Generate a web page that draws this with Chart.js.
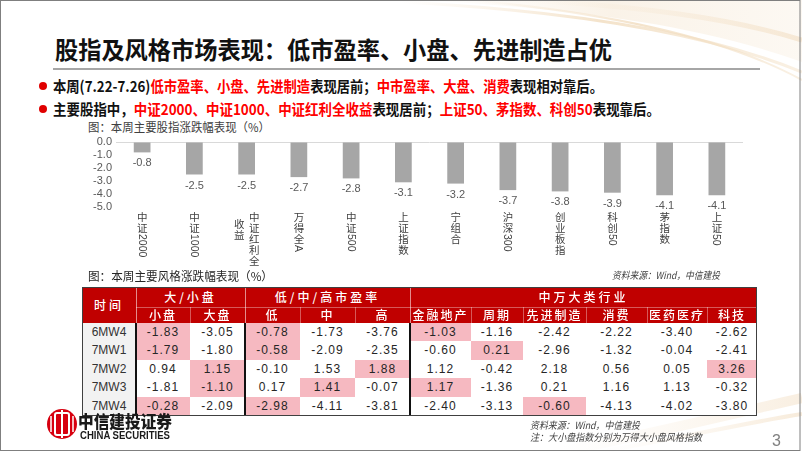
<!DOCTYPE html>
<html><head><meta charset="utf-8">
<script src="https://cdn.jsdelivr.net/npm/chart.js@4.4.1/dist/chart.umd.min.js"></script>
<style>
html,body{margin:0;padding:0;background:#fff;}
#slide{position:relative;width:802px;height:452px;overflow:hidden;background:#fff;font-family:"Noto Sans CJK SC","Noto Sans",sans-serif;}
.abs{position:absolute;white-space:nowrap;}
.fit{display:inline-block;transform-origin:0 50%;}
.red{color:#FF0000;}
.cell{position:absolute;box-sizing:border-box;text-align:center;white-space:nowrap;overflow:hidden;}
</style></head>
<body>
<div id="slide">
<svg class="abs" style="left:0;top:0" width="802" height="452">
  <defs>
    <linearGradient id="g1" x1="0" y1="0" x2="1" y2="0">
      <stop offset="0" stop-color="#F6E6D0" stop-opacity="0"/>
      <stop offset="0.5" stop-color="#F1DCBE" stop-opacity="0.8"/>
      <stop offset="1" stop-color="#F4E2C8" stop-opacity="0.5"/>
    </linearGradient>
    <linearGradient id="g2" x1="0" y1="0" x2="1" y2="0">
      <stop offset="0" stop-color="#F6E6D0" stop-opacity="0"/>
      <stop offset="1" stop-color="#EFD6B4" stop-opacity="0.8"/>
    </linearGradient>
  </defs>
  <path d="M420 0 C560 8 690 22 802 62 L802 0 Z" fill="url(#g1)" opacity="0.45"/>
  <path d="M400 2 C560 10 700 30 802 72" stroke="url(#g1)" stroke-width="3" fill="none"/>
  <path d="M470 0 C600 12 720 35 802 80" stroke="url(#g1)" stroke-width="2" fill="none"/>
  <path d="M520 0 C640 6 730 18 802 40" stroke="url(#g2)" stroke-width="5" fill="none" opacity="0.6"/>
  <path d="M560 452 C660 432 740 412 802 398" stroke="url(#g2)" stroke-width="10" fill="none" opacity="0.5"/>
  <path d="M600 452 C690 436 750 422 802 414" stroke="url(#g2)" stroke-width="4" fill="none" opacity="0.6"/>
  <rect x="0.5" y="0.5" width="799.5" height="450" fill="none" stroke="#7F7F7F" stroke-width="1"/>
  <line x1="53" y1="69" x2="760" y2="69" stroke="#A6A6A6" stroke-width="2"/>
  <circle cx="43" cy="86" r="4" fill="#E00000"/>
  <circle cx="43" cy="109" r="4" fill="#E00000"/>
  <!-- logo -->
  <circle cx="62" cy="424" r="15" fill="#D7000F"/>
  <rect x="55" y="413" width="14" height="22" rx="2" fill="none" stroke="#fff" stroke-width="2"/>
  <line x1="62" y1="410" x2="62" y2="438" stroke="#fff" stroke-width="2"/>
  <line x1="51" y1="416" x2="51" y2="432" stroke="#fff" stroke-width="1.5"/>
  <line x1="73" y1="416" x2="73" y2="432" stroke="#fff" stroke-width="1.5"/>
</svg>

<div class="abs" style="left:55px;top:34px;height:30px;line-height:30px;font-size:24px;font-weight:700;color:#111;"><span class="fit" data-w="557">股指及风格市场表现：低市盈率、小盘、先进制造占优</span></div>
<div class="abs" style="left:53px;top:76px;height:20px;line-height:20px;font-size:15px;font-weight:700;color:#111;"><span class="fit" data-w="550">本周(7.22-7.26)<span class="red">低市盈率、小盘、先进制造</span>表现居前；<span class="red">中市盈率、大盘、消费</span>表现相对靠后。</span></div>
<div class="abs" style="left:53px;top:99px;height:20px;line-height:20px;font-size:15px;font-weight:700;color:#111;"><span class="fit" data-w="607">主要股指中，<span class="red">中证2000、中证1000、中证红利全收益</span>表现居前；<span class="red">上证50、茅指数、科创50</span>表现靠后。</span></div>
<div class="abs" style="left:88px;top:119px;height:16px;line-height:16px;font-size:12px;color:#404040;"><span class="fit" data-w="182">图：本周主要股指涨跌幅表现（%）</span></div>

<canvas id="c" class="abs" style="left:60px;top:128px" width="700" height="142"></canvas>

<div class="abs" style="left:88px;top:268px;height:16px;line-height:16px;font-size:12px;color:#262626;"><span class="fit" data-w="185">图：本周主要风格涨跌幅表现（%）</span></div>
<div class="abs" style="left:612px;top:268px;height:14px;line-height:14px;font-size:10px;font-style:italic;color:#404040;"><span class="fit" data-w="108">资料来源：Wind，中信建投</span></div>

<div id="tbl"></div>

<div class="abs" style="left:78px;top:410px;height:22px;line-height:22px;font-size:17px;font-weight:900;color:#1a1a1a;"><span class="fit" data-w="94">中信建投证券</span></div>
<div class="abs" style="left:80px;top:429px;height:13px;line-height:13px;font-size:10px;font-weight:700;color:#1a1a1a;font-family:'Liberation Sans',sans-serif;"><span class="fit" data-w="90">CHINA SECURITIES</span></div>
<div class="abs" style="left:530px;top:418px;height:14px;line-height:14px;font-size:10px;font-style:italic;color:#404040;"><span class="fit" data-w="110">资料来源：Wind，中信建投</span></div>
<div class="abs" style="left:530px;top:430px;height:14px;line-height:14px;font-size:10px;font-style:italic;color:#404040;"><span class="fit" data-w="172">注：大小盘指数分别为万得大小盘风格指数</span></div>
<div class="abs" style="left:772px;top:431px;height:20px;line-height:20px;font-size:16px;color:#808080;font-family:'Liberation Sans',sans-serif;">3</div>
</div>

<script>
// ---- chart data ----
const indexNames = ['中证2000','中证1000','中证红利全收益','万得全A','中证500','上证指数','宁组合','沪深300','创业板指','科创50','茅指数','上证50'];
const indexChanges = [-0.8,-2.5,-2.5,-2.7,-2.8,-3.1,-3.2,-3.7,-3.8,-3.9,-4.1,-4.1];
const yTicks = [0,-1,-2,-3,-4,-5];

// ---- table data ----
const timeLabels = ['6MW4','7MW1','7MW2','7MW3','7MW4'];
const groupNames = ['大/小盘','低/中/高市盈率','中万大类行业'];
const sizeNames = ['小盘','大盘'];
const peNames = ['低','中','高'];
const industryNames = ['金融地产','周期','先进制造','消费','医药医疗','科技'];
const sizeValues = [[-1.83,-3.05],[-1.79,-1.80],[0.94,1.15],[-1.81,-1.10],[-0.28,-2.09]];
const peValues = [[-0.78,-1.73,-3.76],[-0.58,-2.09,-2.35],[-0.10,1.53,1.88],[0.17,1.41,-0.07],[-2.98,-4.11,-3.81]];
const industryValues = [[-1.03,-1.16,-2.42,-2.22,-3.40,-2.62],[-0.60,0.21,-2.96,-1.32,-0.04,-2.41],[1.12,-0.42,2.18,0.56,0.05,3.26],[1.17,-1.36,0.21,1.16,1.13,-0.32],[-2.40,-3.13,-0.60,-4.13,-4.02,-3.80]];

// fit text widths
document.querySelectorAll('.fit').forEach(el=>{
  const w = el.getBoundingClientRect().width;
  const t = parseFloat(el.dataset.w);
  if (w>0) el.style.transform = 'scaleX(' + (t/w) + ')';
});

// vertical category labels
function drawVertical(ctx, label, cx, top){
  const tokens = label.match(/[A-Za-z0-9.]+|./g);
  const cjkFont = '10.5px "Noto Sans CJK SC"';
  const latFont = '10.5px "Liberation Sans"';
  const pitch = 11;
  const items = tokens.map(t=>{
    if (/^[A-Za-z0-9.]+$/.test(t)) { ctx.font = latFont; return {t, lat:true, h: ctx.measureText(t).width + 1}; }
    return {t, lat:false, h:pitch};
  });
  const cols = [[]]; let acc = 0;
  items.forEach(it=>{
    if (acc + it.h > 56 && cols[cols.length-1].length){ cols.push([]); acc = 0; }
    cols[cols.length-1].push(it); acc += it.h;
  });
  const n = cols.length;
  cols.forEach((col,k)=>{
    const x = cx + (n-1)*7.5 - k*15;
    let y = top + k*7;
    col.forEach(it=>{
      if (it.lat){
        ctx.save(); ctx.font = latFont; ctx.translate(x, y); ctx.rotate(Math.PI/2);
        ctx.textAlign='left'; ctx.textBaseline='middle'; ctx.fillText(it.t, 0, 0.5); ctx.restore();
      } else {
        ctx.font = cjkFont; ctx.textAlign='center'; ctx.textBaseline='middle';
        ctx.fillText(it.t, x, y + pitch/2);
      }
      y += it.h;
    });
  });
}

const labelPlugin = {
  id:'barLabels',
  afterDatasetsDraw(chart){
    const ctx = chart.ctx, xs = chart.scales.x, ys = chart.scales.y;
    ctx.save();
    ctx.fillStyle = '#595959';
    ctx.font = '11px "Liberation Sans"';
    ctx.textAlign = 'center'; ctx.textBaseline = 'middle';
    indexChanges.forEach((v,i)=>{
      ctx.fillText(v.toFixed(1), xs.getPixelForValue(i), ys.getPixelForValue(v) + 11);
    });
    ctx.fillStyle = '#404040';
    indexNames.forEach((lab,i)=>{
      drawVertical(ctx, lab, xs.getPixelForValue(i), chart.chartArea.bottom + 5);
    });
    ctx.restore();
  }
};

new Chart(document.getElementById('c'), {
  type:'bar',
  data:{ labels: indexNames, datasets:[{ data: indexChanges, backgroundColor:'#A6A6A6', barPercentage:0.32, categoryPercentage:1 }]},
  options:{
    responsive:false, animation:false, devicePixelRatio:1,
    layout:{ padding:{ top:14, right:17, bottom:63, left:0 } },
    plugins:{ legend:{display:false}, tooltip:{enabled:false} },
    scales:{
      x:{ display:false, offset:true, grid:{display:false} },
      y:{
        min:-5, max:0,
        afterFit: s => { s.width = 56; },
        afterBuildTicks: s => { s.ticks = yTicks.map(v=>({value:v})); },
        border:{display:false},
        grid:{ drawTicks:false, lineWidth:1, color: c => (c.tick && c.tick.value === 0) ? '#D9D9D9' : 'rgba(0,0,0,0)' },
        ticks:{ autoSkip:false, padding:4, color:'#595959', font:{ family:'Liberation Sans', size:11 }, callback: v => Number(v).toFixed(1) }
      }
    }
  },
  plugins:[labelPlugin]
});

// ---- table ----
(function(){
  const tbl = document.getElementById('tbl');
  const xe = [82,136,190,245,300,355,410,471,523,586,647,707,757];
  const h1 = 287, h2 = 307, d0 = 323, rh = 18.4;
  const RED = '#C00000', PINK = '#F6B9C1';
  function cell(x0,x1,y0,y1,text,css){
    const d = document.createElement('div');
    d.className='cell';
    d.style.cssText += `left:${x0}px;top:${y0}px;width:${x1-x0}px;height:${y1-y0}px;line-height:${y1-y0}px;` + (css||'');
    d.textContent = text;
    tbl.appendChild(d);
    return d;
  }
  const hdr = `background:${RED};color:#fff;font-size:12px;font-weight:500;letter-spacing:3px;`;
  cell(xe[0], xe[1], h1, d0, '时间', hdr);
  const groups = [[1,3],[3,6],[6,12]];
  groups.forEach((g,i)=>cell(xe[g[0]], xe[g[1]], h1, h2, groupNames[i], hdr));
  const subNames = sizeNames.concat(peNames, industryNames);
  subNames.forEach((nm,j)=>cell(xe[j+1], xe[j+2], h2, d0, nm, hdr + 'letter-spacing:2px;'));
  const sep = 'background:rgba(255,255,255,0.55);';
  [1,3,6].forEach(k=>cell(xe[k]-0.5, xe[k]+0.5, h1, d0, '', sep));
  for (let j=2;j<12;j++) if (![3,6].includes(j)) cell(xe[j]-0.5, xe[j]+0.5, h2, d0, '', 'background:rgba(255,255,255,0.35);');
  cell(xe[1], xe[12], h2-0.5, h2+0.5, '', 'background:rgba(255,255,255,0.35);');
  timeLabels.forEach((t,r)=>{
    const y0 = d0 + r*rh, y1 = d0 + (r+1)*rh;
    cell(xe[0], xe[1], y0, y1, t, "background:#F2F2F2;color:#333;font-size:12px;font-family:'Liberation Sans Narrow','Liberation Sans',sans-serif;");
    const rowGroups = [sizeValues[r], peValues[r], industryValues[r]];
    let col = 1;
    rowGroups.forEach(vals=>{
      const mx = Math.max(...vals);
      vals.forEach(v=>{
        const bg = v === mx ? PINK : '#fff';
        cell(xe[col], xe[col+1], y0, y1, v.toFixed(2), `background:${bg};color:#262626;font-size:12px;letter-spacing:1px;font-family:'Liberation Sans',sans-serif;`);
        col++;
      });
    });
  });
  const yEnd = d0 + 5*rh;
  [1,3,6].forEach(k=>cell(xe[k]-1, xe[k]+1, d0, yEnd, '', 'background:#111;'));
  cell(xe[0], xe[12], h1, yEnd+1, '', 'border:1px solid #404040;background:transparent;');
})();
</script>
</body></html>
